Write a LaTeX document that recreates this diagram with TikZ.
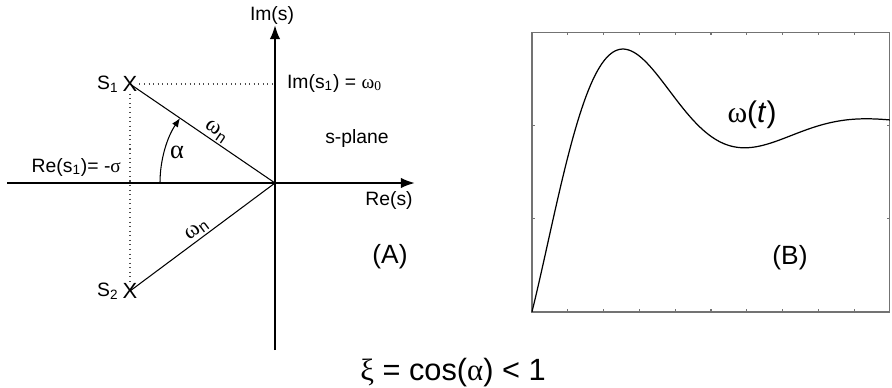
\documentclass[tikz,border=0pt]{standalone}
\usepackage{fontspec}
\setmainfont{Liberation Sans}
\newfontfamily\grk{Liberation Serif}
\usetikzlibrary{arrows.meta,calc,positioning}

\tikzset{
  axis/.style={line width=1.3pt, -{Latex[length=8pt,width=6pt]}},
  pole/.style={line width=0.6pt},
  guide/.style={dotted, line width=0.6pt, black!70},
  lbl/.style={font=\fontsize{11}{13}\selectfont, inner sep=1pt},
  wnlbl/.style={font=\fontsize{13}{15}\selectfont, inner sep=1pt, sloped, above},
  tag/.style={font=\fontsize{15}{18}\selectfont, inner sep=1pt},
  frame/.style={line width=0.6pt, black!55},
  resp/.style={line width=0.7pt, black},
}

\begin{document}
\begin{tikzpicture}[x=0.02cm, y=0.02cm]
  % 892 x 387 px, 1 px = 0.02 cm, y measured from the bottom
  \useasboundingbox (0,0) rectangle (892,387);

  % (A) s-plane axes
  \coordinate (O) at (275,204);
  \coordinate (xl) at (7,204);
  \coordinate (xr) at (415,204);
  \coordinate (yb) at (275,37);
  \coordinate (yt) at (275,362);
  \draw[axis] (xl) -- (xr);
  \draw[axis] (yb) -- (yt);
  \node[lbl] (ims) at (272,372) {Im(s)};
  \node[lbl] (res) at (389,187) {Re(s)};

  % Poles s1, s2
  \coordinate (s1) at (130,303);
  \coordinate (s2) at (130,96);
  \node[lbl, font=\fontsize{12.5}{14}\selectfont] (x1) at (s1) {X};
  \node[lbl, font=\fontsize{12.5}{14}\selectfont] (x2) at (s2) {X};
  \node[lbl, left=0pt of x1] (s1lbl) {S\textsubscript{1}};
  \node[lbl, left=0pt of x2] (s2lbl) {S\textsubscript{2}};
  \draw[pole] (s1) -- (O) node[wnlbl, pos=0.56] (wn1) {{\grk ω}\textsubscript{n}};
  \draw[pole] (s2) -- (O) node[wnlbl, pos=0.5] (wn2) {{\grk ω}\textsubscript{n}};

  % projections onto the axes
  \draw[guide] (x1) -- (x2);
  \draw[guide] (x1) -- (x1 -| O);
  \node[lbl, anchor=west] (imlbl) at (285,304) {Im(s\textsubscript{1}) = {\grk ω}\textsubscript{\grk 0}};
  \node[lbl, anchor=east] (relbl) at (123,220) {Re(s\textsubscript{1})= -{\grk σ}};

  % damping angle
  \draw[pole, -{Latex[length=5pt,width=4pt]}] ($(O)+(180:115)$) arc[start angle=180, end angle=145.7, radius=115];
  \node[lbl, font=\fontsize{15}{17}\selectfont] (alpha) at (177,235) {\grk α};

  \node[lbl] (plane) at (357,249) {s-plane};
  \node[tag] (tagA) at (390,130) {(A)};

  % (B) step response
  \begin{scope}[shift={(532,75)}, x=0.716cm, y=1.8667cm]
    \draw[frame] (0,0) rectangle (10,3);
    \foreach \i in {1,...,9} {
      \draw[frame] (\i,0) -- ++(0,0.03);
      \draw[frame] (\i,3) -- ++(0,-0.03);
    }
    \foreach \j in {1,2} {
      \draw[frame] (0,\j) -- ++(0.08,0);
      \draw[frame] (10,\j) -- ++(-0.08,0);
    }
    \draw[resp] plot[domain=0:10, samples=160, smooth] (\x, {2.0 - 2.19*exp(-0.36*\x)*cos(deg(0.924*\x + 0.423))});
  \end{scope}
  \node[tag, font=\fontsize{17}{20}\selectfont] (wt) at (752,272) {{\grk ω}(\textit{t})};
  \node[tag] (tagB) at (790,129) {(B)};

  % damping ratio
  \node[tag, font=\fontsize{17.5}{20}\selectfont] (xi) at (453,14) {{\grk ξ} = cos({\grk α}) < 1};
\end{tikzpicture}
\end{document}
